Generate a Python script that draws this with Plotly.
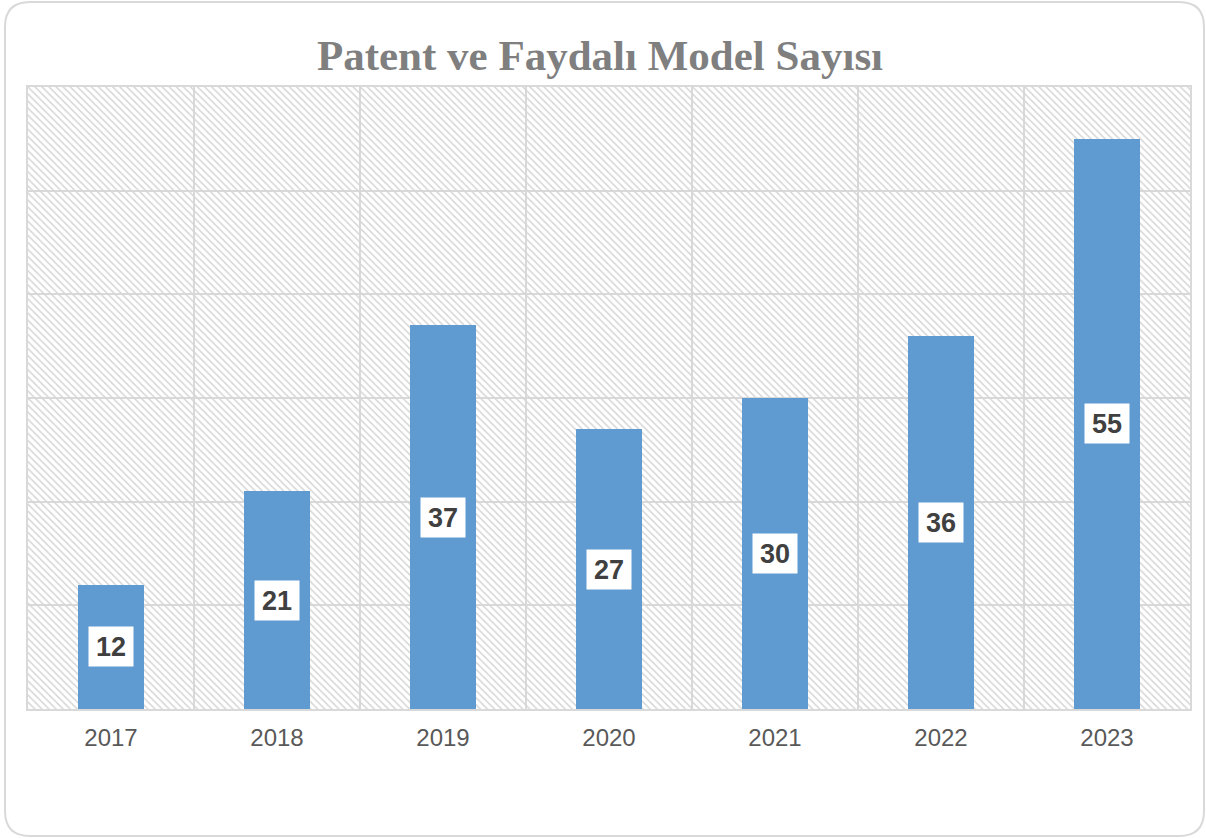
import plotly.graph_objects as go

years = ["2017", "2018", "2019", "2020", "2021", "2022", "2023"]
values = [12, 21, 37, 27, 30, 36, 55]
title_text = "Patent ve Faydalı Model Sayısı"
y_max = 60

W, H = 1206, 838
ML, MR, MT, MB = 28, 16, 87, 129
PW = W - ML - MR
PH = H - MT - MB


def px(xp):
    return (xp - ML) / PW


def py(yp):
    return (H - MB - yp) / PH


fig = go.Figure()

# hatched background per category
fig.add_trace(go.Bar(
    x=years, y=[y_max] * len(years), width=1.0,
    marker=dict(color="rgba(0,0,0,0)", line=dict(width=0),
                pattern=dict(shape="\\", fgcolor="#d6d6d6", bgcolor="rgba(0,0,0,0)",
                             size=5, solidity=0.3, fillmode="replace")),
    hoverinfo="skip", showlegend=False,
))

fig.add_trace(go.Bar(
    x=years, y=values, width=0.4,
    marker=dict(color="#5f9bd1", line=dict(width=0)),
    hoverinfo="skip", showlegend=False,
))

for i, v in enumerate(values):
    fig.add_annotation(
        x=i, y=v / 2, xref="x", yref="y", text=f"<b>{v}</b>", showarrow=False,
        font=dict(family="Liberation Sans, Arial, sans-serif", size=27, color="#404040"),
        bgcolor="#ffffff", borderpad=4, width=36, height=31,
        xanchor="center", yanchor="middle", valign="middle", align="center",
    )

# rounded outer border
x0, x1 = px(5), px(1204)
y0, y1 = py(836), py(2)
rx, ry = 25 / PW, 25 / PH
path = (f"M {x0 + rx},{y1} L {x1 - rx},{y1} Q {x1},{y1} {x1},{y1 - ry} "
        f"L {x1},{y0 + ry} Q {x1},{y0} {x1 - rx},{y0} "
        f"L {x0 + rx},{y0} Q {x0},{y0} {x0},{y0 + ry} "
        f"L {x0},{y1 - ry} Q {x0},{y1} {x0 + rx},{y1} Z")
fig.add_shape(type="path", path=path, xref="paper", yref="paper",
              line=dict(color="#d9d9d9", width=2), layer="below")

fig.update_layout(
    width=W, height=H,
    margin=dict(l=ML, r=MR, t=MT, b=MB),
    paper_bgcolor="white", plot_bgcolor="white",
    barmode="overlay", bargap=0,
    title=dict(text=f"<b>{title_text}</b>", x=600 / W, xanchor="center",
               y=1 - 55 / H, yanchor="middle",
               font=dict(family="Liberation Serif, DejaVu Serif, serif", size=43, color="#7f7f7f")),
    xaxis=dict(type="category", tickson="boundaries", showgrid=True, gridcolor="#d9d9d9",
               gridwidth=2, showline=True, mirror=True, linecolor="#d9d9d9", linewidth=2,
               ticks="", ticklen=0, ticklabelstandoff=6,
               tickfont=dict(family="Liberation Sans, Arial, sans-serif", size=24, color="#595959"),
               range=[-0.5, len(years) - 0.5], fixedrange=True),
    yaxis=dict(range=[0, y_max], dtick=10, showgrid=True, gridcolor="#d9d9d9", gridwidth=2,
               showticklabels=False, zeroline=False, showline=True, mirror=True,
               linecolor="#d9d9d9", linewidth=2, fixedrange=True),
    showlegend=False,
)

fig.write_html("out.html", config={"displayModeBar": False},
               post_script="document.body.style.margin='0px';")
